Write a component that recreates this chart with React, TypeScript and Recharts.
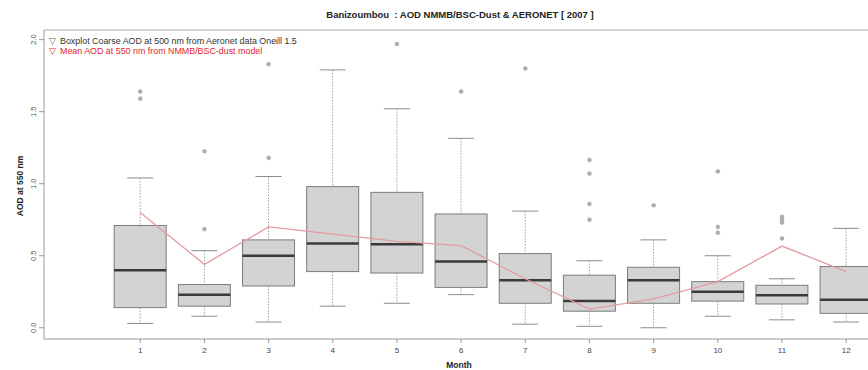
import React from 'react';
import { ComposedChart, Bar, Line, Scatter, XAxis, YAxis, ReferenceLine } from 'recharts';

// monthly boxplot stats (coarse AOD, Aeronet)
const months = [1, 2, 3, 4, 5, 6, 7, 8, 9, 10, 11, 12];
const whiskerLow = [0.03, 0.08, 0.04, 0.15, 0.17, 0.23, 0.025, 0.01, 0.0, 0.08, 0.055, 0.04];
const lowerQuartile = [0.14, 0.15, 0.29, 0.39, 0.38, 0.28, 0.17, 0.115, 0.17, 0.185, 0.165, 0.1];
const medians = [0.4, 0.23, 0.5, 0.585, 0.58, 0.46, 0.33, 0.185, 0.33, 0.25, 0.225, 0.195];
const upperQuartile = [0.71, 0.3, 0.61, 0.98, 0.94, 0.79, 0.515, 0.365, 0.42, 0.32, 0.295, 0.425];
const whiskerHigh = [1.04, 0.535, 1.05, 1.79, 1.52, 1.315, 0.81, 0.465, 0.61, 0.5, 0.34, 0.69];

// model mean (NMMB/BSC-dust)
const modelMean = [0.8, 0.44, 0.7, 0.65, 0.6, 0.57, 0.34, 0.13, 0.2, 0.32, 0.567, 0.39];

// outliers
const outlierMonths = [1, 1, 2, 2, 3, 3, 5, 6, 7, 8, 8, 8, 8, 9, 10, 10, 10, 11, 11, 11, 11];
const outlierValues = [1.64, 1.59, 1.225, 0.685, 1.83, 1.18, 1.97, 1.64, 1.8, 1.165, 1.07, 0.86, 0.75, 0.85, 1.085, 0.7, 0.66, 0.77, 0.75, 0.73, 0.62];

const yTicks = [0, 0.5, 1, 1.5, 2];
const yDomain = [-0.078, 2.067];

const chartData = months.map((m, i) => ({
  month: m,
  low: whiskerLow[i],
  q1: lowerQuartile[i],
  median: medians[i],
  q3: upperQuartile[i],
  high: whiskerHigh[i],
  mean: modelMean[i],
}));

const outlierData = outlierMonths.map((m, i) => ({ month: m, value: outlierValues[i] }));

const FONT = "'Liberation Sans', Arial, Helvetica, sans-serif";

function BoxShape(props: any) {
  const { x, y, width, height, payload } = props;
  const { low, q1, median, q3, high } = payload;
  const top = Math.min(y, y + height);
  const h = Math.abs(height);
  const ppu = h / (high - low);
  const py = (v: number) => top + (high - v) * ppu;
  const cx = x + width / 2;
  const cap = width / 4;
  return (
    <g>
      <line x1={cx} x2={cx} y1={py(high)} y2={py(q3)} stroke="#a0a0a0" strokeDasharray="1.5 1.5" />
      <line x1={cx} x2={cx} y1={py(q1)} y2={py(low)} stroke="#a0a0a0" strokeDasharray="1.5 1.5" />
      <line x1={cx - cap} x2={cx + cap} y1={py(high)} y2={py(high)} stroke="#8c8c8c" />
      <line x1={cx - cap} x2={cx + cap} y1={py(low)} y2={py(low)} stroke="#8c8c8c" />
      <rect x={x} y={py(q3)} width={width} height={py(q1) - py(q3)} fill="#d3d3d3" stroke="#7c7c7c" />
      <line x1={x} x2={x + width} y1={py(median)} y2={py(median)} stroke="#3a3a3a" strokeWidth={2.5} />
    </g>
  );
}

function OutlierDot(props: any) {
  const { cx, cy } = props;
  return <circle cx={cx} cy={cy} r={1.9} fill="#b0b0b0" stroke="#a0a0a0" strokeWidth={0.6} />;
}

function YTick(props: any) {
  const { x, y, payload } = props;
  return (
    <text
      x={x - 1}
      y={y}
      transform={`rotate(-90, ${x - 1}, ${y})`}
      textAnchor="middle"
      fontSize={7.5}
      fill="#555"
      fontFamily={FONT}
    >
      {payload.value.toFixed(1)}
    </text>
  );
}

export default function App() {
  return (
    <div style={{ position: 'absolute', left: 0, top: 0, width: 868, height: 370, overflow: 'hidden', background: '#fff', fontFamily: FONT }}>
      <ComposedChart width={868} height={370} data={chartData} margin={{ top: 30, right: 0, bottom: 0, left: 0 }}>
        <XAxis
          dataKey="month"
          type="number"
          domain={[-0.5, 12.34]}
          allowDataOverflow
          ticks={months}
          interval={0}
          height={31}
          tickSize={4}
          tickMargin={4}
          axisLine={{ stroke: '#999' }}
          tickLine={{ stroke: '#999' }}
          tick={{ fontSize: 8, fill: '#444', fontFamily: FONT }}
        />
        <YAxis
          type="number"
          domain={yDomain}
          allowDataOverflow
          ticks={yTicks}
          width={44}
          tickSize={5}
          axisLine={{ stroke: '#999' }}
          tickLine={{ stroke: '#999' }}
          tick={<YTick />}
        />
        <ReferenceLine y={yDomain[1]} stroke="#aaa" />
        <Bar
          dataKey={(d: any) => [d.low, d.high]}
          barSize={52}
          shape={<BoxShape />}
          isAnimationActive={false}
        />
        <Scatter data={outlierData} dataKey="value" shape={<OutlierDot />} isAnimationActive={false} />
        <Line
          dataKey="mean"
          type="linear"
          stroke="#e69aa2"
          strokeWidth={1.3}
          dot={false}
          isAnimationActive={false}
        />
      </ComposedChart>

      <div style={{ position: 'absolute', left: 0, width: 920, top: 9, textAlign: 'center', fontSize: 9.5, fontWeight: 'bold', color: '#222' }}>
        Banizoumbou&nbsp;&nbsp;: AOD NMMB/BSC-Dust &amp; AERONET [ 2007 ]
      </div>
      <div style={{ position: 'absolute', left: 49, top: 36, fontSize: 8.9, lineHeight: '10px', whiteSpace: 'nowrap' }}>
        <div style={{ color: '#333' }}>
          <span style={{ color: '#666', marginRight: 4 }}>▽</span>Boxplot Coarse AOD at 500 nm from Aeronet data Oneill 1.5
        </div>
        <div style={{ color: '#e0262c' }}>
          <span style={{ marginRight: 4 }}>▽</span>Mean AOD at 550 nm from NMMB/BSC-dust model
        </div>
      </div>
      <div
        style={{
          position: 'absolute',
          left: 20,
          top: 186,
          transform: 'translate(-50%, -50%) rotate(-90deg)',
          fontSize: 8.5,
          fontWeight: 'bold',
          color: '#222',
          whiteSpace: 'nowrap',
        }}
      >
        AOD at 550 nm
      </div>
      <div style={{ position: 'absolute', left: 0, width: 918, top: 360, textAlign: 'center', fontSize: 8.5, fontWeight: 'bold', color: '#222' }}>
        Month
      </div>
    </div>
  );
}
